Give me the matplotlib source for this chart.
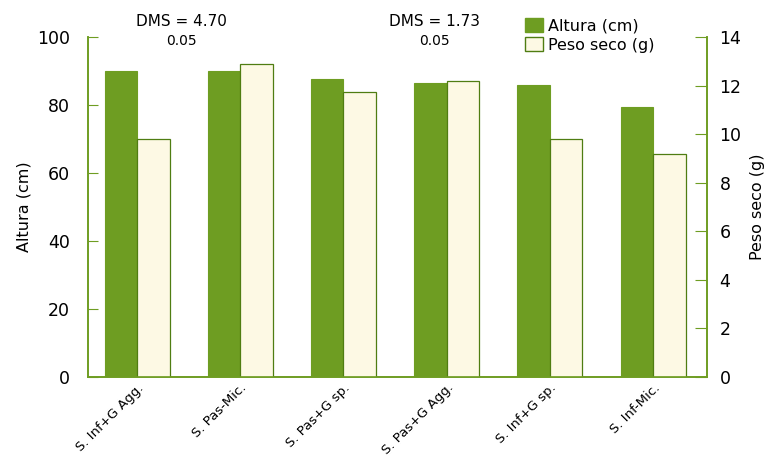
import numpy as np
import matplotlib
matplotlib.use("Agg")
from matplotlib import pyplot as plt
from matplotlib.patches import Patch

tratamientos = ["S. Inf+G Agg.", "S. Pas-Mic.", "S. Pas+G sp.",
                "S. Pas+G Agg.", "S. Inf+G sp.", "S. Inf-Mic."]
altura = [90.0, 90.0, 87.6, 86.6, 85.9, 79.5]
peso_seco = [9.8, 12.9, 11.75, 12.2, 9.8, 9.2]

verde = "#6e9d22"
crema = "#fdf9e4"
borde = "#4f7d12"

plt.rcParams['font.family'] = ['DejaVu Sans']

fig = plt.figure(figsize=(7.7, 4.57), dpi=100)
ax = fig.add_axes([0.1143, 0.175, 0.804, 0.744])
ax2 = ax.twinx()

x = np.arange(len(tratamientos))
w = 0.315
ax.bar(x - w / 2, altura, w, color=verde, edgecolor=verde, linewidth=0.8, zorder=2)
ax2.bar(x + w / 2, peso_seco, w, color=crema, edgecolor=borde, linewidth=0.9, zorder=2)

ax.set_xlim(-0.475, 5.523)
ax.set_ylim(0, 100)
ax2.set_ylim(0, 14)
ax.set_yticks(range(0, 101, 20))
ax2.set_yticks(range(0, 15, 2))

ax.set_xticks(x)
ax.set_xticklabels(tratamientos, rotation=45, ha="right", rotation_mode="anchor", fontsize=9.5)
ax.tick_params(axis="x", length=0, pad=3)
ax.tick_params(axis="y", direction="in", length=7, color=verde, labelsize=12.5, pad=13)
ax2.tick_params(axis="y", direction="in", length=9, color=verde, labelsize=12.5, pad=9)

for a in (ax, ax2):
    a.spines["top"].set_visible(False)
    for s in ("left", "right", "bottom"):
        a.spines[s].set_color(verde)
        a.spines[s].set_linewidth(1.2)

ax.set_ylabel("Altura (cm)", fontsize=11.5, labelpad=4)
ax2.set_ylabel("Peso seco (g)", fontsize=11.5, labelpad=6)

fig.text(0.236, 0.954, "DMS = 4.70", ha="center", va="center", fontsize=11)
fig.text(0.236, 0.91, "0.05", ha="center", va="center", fontsize=10)
fig.text(0.564, 0.954, "DMS = 1.73", ha="center", va="center", fontsize=11)
fig.text(0.564, 0.91, "0.05", ha="center", va="center", fontsize=10)

handles = [Patch(facecolor=verde, edgecolor=verde), Patch(facecolor=crema, edgecolor=borde)]
fig.legend(handles, ["Altura (cm)", "Peso seco (g)"], loc="upper left",
           bbox_to_anchor=(0.682, 0.96), frameon=False, fontsize=11.5,
           handlelength=1.1, handleheight=0.9, handletextpad=0.3, labelspacing=0.25,
           borderaxespad=0, borderpad=0)

fig.savefig("out.png", dpi=100)
